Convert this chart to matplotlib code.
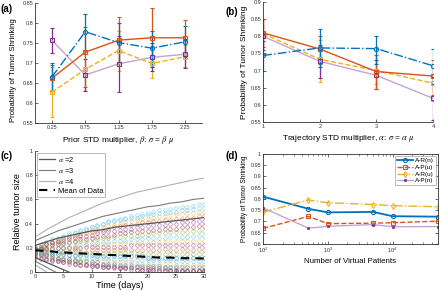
import matplotlib
matplotlib.use("Agg")
import matplotlib.pyplot as plt
import numpy as np

plt.rcParams['font.family'] = ['Liberation Sans', 'DejaVu Sans']
plt.rcParams['mathtext.fontset'] = 'stix'
plt.rcParams['xtick.direction'] = 'in'
plt.rcParams['ytick.direction'] = 'in'
plt.rcParams['axes.edgecolor'] = '#333333'
plt.rcParams['xtick.color'] = '#333333'
plt.rcParams['ytick.color'] = '#333333'
plt.rcParams['axes.linewidth'] = 0.6

# ---------------- data ----------------
series_names = ["A-R(n)", "A-P(u)", "A-R(u)", "A-P(n)"]

# Panel (a)
beta = [0.25, 0.75, 1.25, 1.75, 2.25]
a_blue = [0.665, 0.778, 0.751, 0.737, 0.753]
a_blue_lo = [0.632, 0.733, 0.700, 0.690, 0.715]
a_blue_hi = [0.700, 0.822, 0.800, 0.780, 0.792]
a_orange = [0.662, 0.727, 0.757, 0.763, 0.763]
a_orange_lo = [0.630, 0.640, 0.700, 0.690, 0.720]
a_orange_hi = [0.695, 0.790, 0.815, 0.838, 0.807]
a_yellow = [0.627, 0.684, 0.731, 0.699, 0.716]
a_yellow_lo = [0.565, 0.630, 0.680, 0.662, 0.690]
a_yellow_hi = [0.690, 0.730, 0.780, 0.740, 0.745]
a_purple = [0.757, 0.670, 0.698, 0.714, 0.722]
a_purple_lo = [0.725, 0.630, 0.627, 0.680, 0.688]
a_purple_hi = [0.787, 0.710, 0.768, 0.750, 0.760]

# Panel (b)
alpha_mult = [1, 2, 3, 4]
b_blue = [0.744, 0.766, 0.764, 0.714]
b_blue_lo = [0.700, 0.710, 0.720, 0.660]
b_blue_hi = [0.785, 0.820, 0.800, 0.764]
b_orange = [0.810, 0.763, 0.697, 0.684]
b_orange_lo = [0.770, 0.720, 0.645, 0.630]
b_orange_hi = [0.850, 0.800, 0.745, 0.730]
b_yellow = [0.808, 0.733, 0.700, 0.663]
b_yellow_lo = [0.770, 0.668, 0.660, 0.610]
b_yellow_hi = [0.850, 0.790, 0.745, 0.720]
b_purple = [0.800, 0.727, 0.686, 0.619]
b_purple_lo = [0.760, 0.677, 0.645, 0.557]
b_purple_hi = [0.850, 0.775, 0.730, 0.680]

# Panel (c)
days = list(range(31))
traj = [
    [.18,.20,.23,.25,.27,.29,.31,.32,.34,.36,.37,.39,.40,.42,.43,.44,.45,.46,.47,.48,.49,.50,.51,.51,.52,.53,.54,.54,.55,.56,.56],
    [.21,.23,.25,.27,.28,.30,.32,.33,.35,.36,.37,.38,.40,.41,.42,.43,.44,.45,.45,.46,.47,.48,.49,.49,.50,.50,.51,.51,.52,.53,.53],
    [.19,.21,.23,.25,.26,.28,.29,.31,.32,.34,.35,.36,.37,.38,.39,.40,.41,.42,.43,.44,.44,.45,.46,.46,.47,.48,.48,.49,.49,.50,.50],
    [.20,.22,.23,.25,.26,.27,.29,.30,.31,.32,.33,.34,.35,.36,.37,.38,.39,.39,.40,.41,.41,.42,.42,.43,.43,.44,.44,.45,.45,.46,.46],
    [.20,.21,.23,.24,.25,.26,.27,.28,.30,.30,.31,.32,.33,.34,.34,.35,.36,.36,.37,.37,.38,.39,.39,.39,.40,.40,.41,.41,.41,.42,.42],
    [.18,.19,.20,.22,.23,.24,.25,.26,.27,.27,.28,.29,.30,.30,.31,.32,.32,.33,.33,.34,.34,.35,.35,.36,.36,.36,.37,.37,.37,.38,.38],
    [.19,.20,.21,.22,.23,.23,.24,.25,.26,.26,.27,.27,.28,.28,.29,.29,.30,.30,.30,.31,.31,.32,.32,.32,.33,.33,.33,.33,.34,.34,.34],
    [.17,.18,.19,.19,.20,.21,.21,.22,.23,.23,.24,.24,.25,.25,.26,.26,.26,.27,.27,.27,.28,.28,.28,.28,.29,.29,.29,.29,.30,.30,.30],
    [.18,.18,.19,.19,.20,.20,.21,.21,.21,.22,.22,.22,.23,.23,.23,.23,.24,.24,.24,.24,.24,.25,.25,.25,.25,.25,.26,.26,.26,.26,.26],
    [.19,.19,.19,.20,.20,.20,.20,.20,.20,.21,.21,.21,.21,.21,.21,.21,.21,.22,.22,.22,.22,.22,.22,.22,.22,.22,.22,.22,.22,.22,.22],
    [.17,.17,.17,.17,.17,.17,.17,.18,.17,.17,.18,.18,.18,.18,.18,.18,.19,.18,.18,.18,.19,.18,.18,.19,.18,.18,.19,.18,.18,.19,.18],
    [.18,.18,.18,.17,.17,.17,.17,.17,.16,.16,.16,.16,.16,.16,.16,.16,.16,.16,.15,.15,.15,.15,.15,.15,.15,.15,.15,.15,.15,.15,.15],
    [.16,.16,.15,.15,.15,.15,.14,.14,.14,.14,.14,.13,.13,.13,.13,.13,.13,.13,.13,.13,.12,.12,.12,.12,.12,.12,.12,.12,.12,.12,.12],
    [.17,.16,.16,.15,.15,.14,.14,.13,.13,.12,.12,.12,.12,.11,.11,.11,.11,.10,.10,.10,.10,.10,.10,.10,.10,.09,.09,.09,.09,.09,.09],
    [.15,.14,.14,.13,.12,.12,.11,.11,.10,.10,.09,.09,.09,.09,.08,.08,.08,.08,.07,.07,.07,.07,.07,.07,.07,.06,.06,.06,.06,.06,.06],
    [.16,.15,.14,.13,.12,.11,.11,.10,.09,.09,.08,.08,.07,.07,.07,.06,.06,.06,.05,.05,.05,.05,.05,.04,.04,.04,.04,.04,.04,.04,.04],
    [.14,.13,.12,.11,.10,.10,.09,.08,.08,.07,.07,.06,.06,.05,.05,.05,.04,.04,.04,.04,.03,.03,.03,.03,.03,.03,.02,.02,.02,.02,.02],
    [.12,.11,.10,.09,.09,.08,.07,.07,.06,.06,.05,.05,.04,.04,.04,.03,.03,.03,.02,.02,.02,.02,.02,.02,.02,.02,.01,.01,.01,.01,.01],
    [.15,.14,.13,.12,.11,.10,.09,.09,.08,.07,.07,.06,.06,.05,.05,.04,.04,.04,.04,.03,.03,.03,.03,.03,.02,.02,.02,.02,.02,.02,.02],
    [.13,.12,.11,.10,.09,.08,.08,.07,.06,.06,.05,.05,.04,.04,.03,.03,.03,.02,.02,.02,.02,.02,.01,.01,.01,.01,.01,.01,.01,.01,.01],
]
traj_colors = ['#4DBEEE', '#4DBEEE', '#EDB120', '#D95319', '#7E2F8E', '#A2142F', '#77AC30',
               '#4DBEEE', '#EDB120', '#7E2F8E', '#D95319', '#77AC30', '#0072BD', '#4DBEEE',
               '#EDB120', '#0072BD', '#4DBEEE', '#A2142F', '#D95319', '#7E2F8E']

env_days = [0, 2, 4, 6, 8, 10, 12, 14, 16, 18, 20, 22, 24, 26, 28, 30]
up_a2 = [.22,.25,.28,.30,.32,.34,.35,.37,.38,.39,.40,.41,.42,.43,.44,.45]
up_a3 = [.26,.30,.34,.37,.40,.43,.46,.48,.50,.52,.54,.55,.57,.58,.60,.61]
up_a4 = [.29,.35,.40,.45,.49,.53,.57,.60,.63,.66,.68,.70,.72,.74,.76,.775]
low_days = [0, 2, 4, 6, 8]
low_a2 = [.12, .08, .04, .00, -.04]
low_a3 = [.09, .04, -.01, -.06, -.11]
low_a4 = [.06, .00, -.06, -.12, -.18]
mean_data = [.18,.175,.165,.16,.155,.15,.145,.14,.135,.13,.125,.12,.12,.115,.115,.112]

# Panel (d)
n_patients = [100, 500, 1000, 5000, 10000, 50000]
d_ARn = [0.810, 0.756, 0.740, 0.742, 0.723, 0.721]
d_APu = [0.669, 0.722, 0.690, 0.692, 0.694, 0.701]
d_ARu = [0.741, 0.795, 0.783, 0.775, 0.770, 0.765]
d_APn = [0.760, 0.670, 0.678, 0.686, 0.676, 0.677]

BLUE = '#0072BD'; ORANGE = '#D95319'; YELLOW = '#EDB120'; PURPLE = '#7E2F8E'
LILAC = '#C7A3D0'

TICK_FS = 4.0
LAB_FS = 6.0

fig = plt.figure(figsize=(4.4, 2.91), dpi=100)

def style(ax, box=False):
    ax.tick_params(labelsize=TICK_FS, length=2, width=0.5, pad=1.5)
    if not box:
        ax.spines['top'].set_visible(False)
        ax.spines['right'].set_visible(False)
    else:
        ax.tick_params(which='both', top=True, right=True)

def eb(ax, x, y, lo, hi, color, lcolor, ls, marker):
    y = np.array(y); lo = np.array(lo); hi = np.array(hi)
    ax.errorbar(x, y, yerr=[y - lo, hi - y], color=lcolor, ls=ls, lw=1.0,
                ecolor=color, elinewidth=0.9, capsize=1.2, capthick=0.6,
                marker=marker, ms=3, mfc='none', mec=color, mew=0.8)

# (a)
ax = fig.add_axes([0.080, 0.577, 0.379, 0.413])
eb(ax, beta, a_yellow, a_yellow_lo, a_yellow_hi, YELLOW, YELLOW, '--', 's')
eb(ax, beta, a_purple, a_purple_lo, a_purple_hi, PURPLE, LILAC, '-', 's')
eb(ax, beta, a_orange, a_orange_lo, a_orange_hi, ORANGE, ORANGE, '-', 's')
eb(ax, beta, a_blue, a_blue_lo, a_blue_hi, BLUE, BLUE, '-.', 'o')
ax.set_xlim(0, 2.5)
ax.set_ylim(0.55, 0.85)
ax.set_xticks(beta)
ax.set_xticklabels([f"{v:.2f}" for v in beta])
ax.set_yticks(np.arange(0.55, 0.851, 0.05))
ax.set_yticklabels(["0.55", "0.6", "0.65", "0.7", "0.75", "0.8", "0.85"])
ax.set_xlabel(r"Prior STD multiplier, $\beta$: $\sigma$ = $\beta$ $\mu$", fontsize=LAB_FS, labelpad=3)
ax.set_ylabel("Probability of Tumor Shrinking", fontsize=LAB_FS - 0.4, labelpad=2)
ax.yaxis.set_label_coords(-0.11, 0.44)
style(ax)
fig.text(0.002, 0.958, "(a)", fontsize=7, fontweight='bold')

# (b)
ax = fig.add_axes([0.598, 0.581, 0.386, 0.412])
eb(ax, alpha_mult, b_yellow, b_yellow_lo, b_yellow_hi, YELLOW, YELLOW, '--', 's')
eb(ax, alpha_mult, b_purple, b_purple_lo, b_purple_hi, PURPLE, LILAC, '-', 's')
eb(ax, alpha_mult, b_orange, b_orange_lo, b_orange_hi, ORANGE, ORANGE, '-', 's')
eb(ax, alpha_mult, b_blue, b_blue_lo, b_blue_hi, BLUE, BLUE, '-.', 'o')
ax.set_xlim(1, 4)
ax.set_ylim(0.55, 0.9)
ax.set_xticks(alpha_mult)
ax.set_yticks(np.arange(0.55, 0.901, 0.05))
ax.set_yticklabels(["0.55", "0.6", "0.65", "0.7", "0.75", "0.8", "0.85", "0.9"])
ax.set_xlabel(r"Trajectory STD multiplier, $\alpha$: $\sigma$ = $\alpha$ $\mu$", fontsize=LAB_FS, labelpad=3)
ax.set_ylabel("Probability of Tumor Shrinking", fontsize=LAB_FS, labelpad=2)
style(ax)
fig.text(0.513, 0.950, "(b)", fontsize=7, fontweight='bold')

# (c)
ax = fig.add_axes([0.080, 0.065, 0.384, 0.416])
for tr, c in zip(traj, traj_colors):
    ax.plot(days, tr, ls='none', marker='o', ms=2.6, mfc='none', mec=c, mew=0.5, alpha=0.6)
ax.plot(env_days, up_a2, color='#555555', lw=0.9, label=r"$\alpha$ =2")
ax.plot(env_days, up_a3, color='#7a7a7a', lw=0.8, label=r"$\alpha$ =3")
ax.plot(env_days, up_a4, color='#b0b0b0', lw=0.8, label=r"$\alpha$ =4")
ax.plot(low_days, low_a2, color='#555555', lw=0.9)
ax.plot(low_days, low_a3, color='#7a7a7a', lw=0.8)
ax.plot(low_days, low_a4, color='#b0b0b0', lw=0.8)
ax.plot(env_days, mean_data, color='black', lw=1.5, ls=(0, (4, 3)), label="Mean of Data")
ax.set_xlim(0, 30)
ax.set_ylim(0, 1)
ax.set_xticks([0, 5, 10, 15, 20, 25, 30])
ax.set_yticks([0, 0.2, 0.4, 0.6, 0.8, 1])
ax.set_yticklabels(["0", "0.2", "0.4", "0.6", "0.8", "1"])
ax.set_xlabel("Time (days)", fontsize=LAB_FS + 0.5, labelpad=1.5)
ax.set_ylabel("Relative tumor size", fontsize=LAB_FS + 0.5, labelpad=2)
style(ax)
leg = ax.legend(loc='upper left', fontsize=5.4, frameon=True, fancybox=False,
                handlelength=2.2, borderpad=0.3, labelspacing=0.25, handletextpad=0.3,
                borderaxespad=0.2)
leg.get_frame().set_edgecolor('#888888')
leg.get_frame().set_linewidth(0.5)
fig.text(0.002, 0.452, "(c)", fontsize=7, fontweight='bold')

# (d)
ax = fig.add_axes([0.598, 0.162, 0.397, 0.309])
ax.plot(n_patients, d_ARn, color=BLUE, lw=1.3, ls='-', marker='o', ms=3, mfc='none', mew=0.8, label=series_names[0])
ax.plot(n_patients, d_APu, color=ORANGE, lw=1.0, ls='--', marker='s', ms=2.8, mfc='none', mew=0.8, label=series_names[1])
ax.plot(n_patients, d_ARu, color=YELLOW, lw=1.0, ls='-.', marker='d', ms=3, mfc='none', mew=0.8, label=series_names[2])
ax.plot(n_patients, d_APn, color='#C39BD3', lw=0.9, ls='-', marker='s', ms=2, mfc=PURPLE, mec=PURPLE, mew=0.5, label=series_names[3])
ax.set_xscale('log')
ax.set_xlim(100, 50000)
ax.set_ylim(0.6, 1.0)
ax.set_yticks(np.arange(0.6, 1.001, 0.05))
ax.set_yticklabels(["0.6", "0.65", "0.7", "0.75", "0.8", "0.85", "0.9", "0.95", "1"])
ax.set_xlabel("Number of Virtual Patients", fontsize=LAB_FS - 0.3, labelpad=2)
ax.set_ylabel("Probability of Tumor Shrinking", fontsize=LAB_FS - 1.3, labelpad=2)
style(ax, box=True)
ax.tick_params(which='minor', length=1.2, width=0.4)
leg = ax.legend(loc='upper right', fontsize=4.6, frameon=True, fancybox=False,
                handlelength=2.5, borderpad=0.3, labelspacing=0.2, handletextpad=0.3,
                borderaxespad=0.3)
leg.get_frame().set_edgecolor('#888888')
leg.get_frame().set_linewidth(0.5)
fig.text(0.513, 0.452, "(d)", fontsize=7, fontweight='bold')

fig.savefig("out.png", dpi=100)
